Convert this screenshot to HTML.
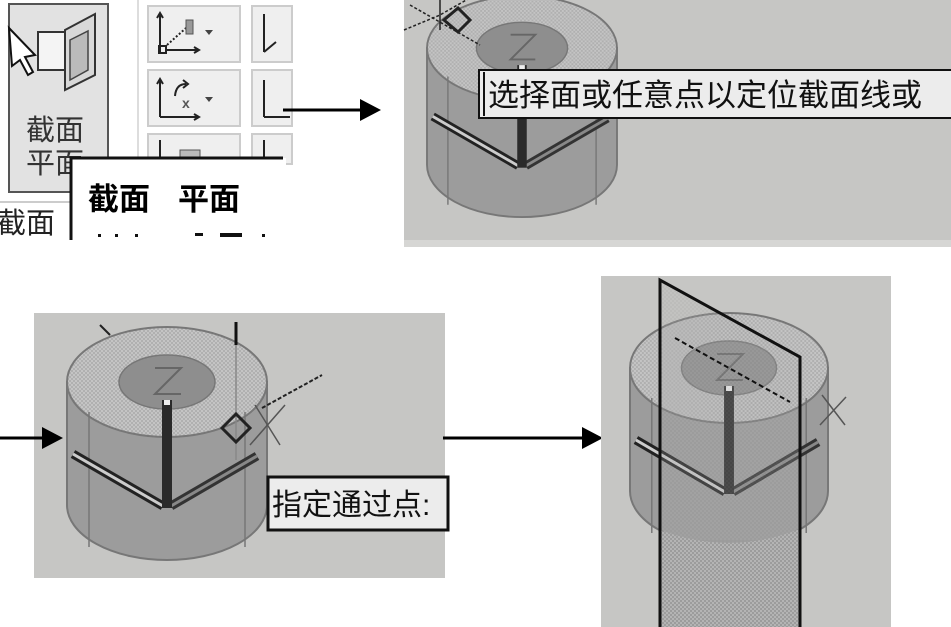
<!DOCTYPE html>
<html><head><meta charset="utf-8"><style>
html,body{margin:0;padding:0;background:#fff;}
svg{display:block}
text{font-family:"Liberation Sans","Noto Sans CJK SC","WenQuanYi Zen Hei",sans-serif;}
</style></head><body>
<svg width="951" height="627" viewBox="0 0 951 627" xmlns="http://www.w3.org/2000/svg">
<defs>
<pattern id="dots" width="4" height="4" patternUnits="userSpaceOnUse"><rect width="4" height="4" fill="#b4b4b4"/><rect width="2" height="2" fill="#9c9c9c"/><rect x="2" y="2" width="2" height="2" fill="#9c9c9c"/></pattern>
<pattern id="dotsL" width="4" height="4" patternUnits="userSpaceOnUse"><rect width="4" height="4" fill="#c4c4c4"/><rect width="2" height="2" fill="#b0b0b0"/><rect x="2" y="2" width="2" height="2" fill="#b0b0b0"/></pattern>
<g id="cyl">
 <path d="M-100,0 L-100,123 A100,55 0 0 0 100,123 L100,0 Z" fill="#9c9c9c" stroke="#777" stroke-width="2"/>
 <ellipse cx="0" cy="0" rx="100" ry="55" fill="url(#dotsL)" stroke="#777" stroke-width="2"/>
 <ellipse cx="0" cy="0" rx="48" ry="27" fill="#8e8e8e" stroke="#777" stroke-width="1.5"/>
 <line x1="-78" y1="30" x2="-78" y2="165" stroke="#777" stroke-width="1.5"/>
 <line x1="78" y1="30" x2="78" y2="165" stroke="#777" stroke-width="1.5"/>
 <path d="M-12,-14 L14,-14 L-12,12 L14,12" fill="none" stroke="#666" stroke-width="2"/>
 <line x1="-94" y1="72" x2="-4" y2="124" stroke="#222" stroke-width="9"/>
 <line x1="-94" y1="72" x2="-4" y2="124" stroke="#ccc" stroke-width="3"/>
 <line x1="4" y1="124" x2="90" y2="74" stroke="#333" stroke-width="9"/>
 <line x1="4" y1="124" x2="90" y2="74" stroke="#888" stroke-width="3"/>
 <rect x="-5" y="18" width="10" height="108" fill="#2a2a2a"/>
 <rect x="-3" y="18" width="6" height="5" fill="#eee"/>
</g>
</defs>

<line x1="138" y1="0" x2="138" y2="160" stroke="#ddd" stroke-width="2"/>
<rect x="9" y="4" width="99" height="188" fill="#e2e2e2" stroke="#555" stroke-width="2"/>
<path d="M38,32 L70,32 L70,70 L38,70 Z" fill="#f4f4f4" stroke="#333" stroke-width="2"/>
<path d="M65,30 L95,14 L95,75 L65,90 Z" fill="#d8d8d8" stroke="#333" stroke-width="2"/>
<path d="M70,40 L88,31 L88,70 L70,80 Z" fill="#bbb" stroke="#444" stroke-width="1.5"/>
<path d="M9,28 L35,55 L25,57 L33,72 L28,75 L20,60 L12,66 Z" fill="#fff" stroke="#111" stroke-width="2"/>
<text x="26" y="140" font-size="29" fill="#333">截面</text>
<text x="26" y="173" font-size="29" fill="#333">平面</text>
<line x1="0" y1="202" x2="70" y2="202" stroke="#ccc" stroke-width="2"/>
<text x="-3" y="233" font-size="29" fill="#222">截面</text>
<g fill="#efefef" stroke="#ccc" stroke-width="2">
<rect x="148" y="6" width="92" height="56"/>
<rect x="148" y="70" width="92" height="56"/>
<rect x="148" y="134" width="92" height="30"/>
<rect x="252" y="6" width="40" height="56"/>
<rect x="252" y="70" width="40" height="56"/>
<rect x="252" y="134" width="40" height="30"/>
</g>
<g stroke="#222" stroke-width="2" fill="none">
<path d="M160,52 L160,14 M157,18 L160,13 L163,18"/><path d="M166,50 L198,50 M194,47 L199,50 L194,53"/>
<rect x="159" y="46" width="7" height="7"/><path d="M167,45 L186,28" stroke-dasharray="2,2"/>
<path d="M160,117 L160,80 M157,84 L160,79 L163,84"/><path d="M160,117 L198,117 M194,114 L199,117 L194,120"/>
<path d="M175,96 Q176,84 186,84 M183,80 L188,84 L183,88"/>
<path d="M264,52 L264,14 M264,52 L276,42"/><path d="M264,117 L264,80 M264,117 L290,117"/>
<path d="M160,160 L160,140 M264,160 L264,140"/>
</g>
<rect x="186" y="20" width="7" height="14" fill="#999" stroke="#555"/>
<text x="182" y="108" font-size="14" font-weight="bold" fill="#555">x</text>
<path d="M205,30 L213,30 L209,35 Z M205,97 L213,97 L209,102 Z" fill="#444"/>
<rect x="180" y="150" width="20" height="14" fill="#bbb" stroke="#555"/>
<rect x="71" y="158" width="215" height="90" fill="#fff"/>
<path d="M71,240 L71,158 L283,158" fill="none" stroke="#111" stroke-width="3"/>
<text x="88" y="210" font-size="31" font-weight="bold" fill="#000">截面</text>
<text x="178" y="210" font-size="31" font-weight="bold" fill="#000">平面</text>
<g fill="#111"><rect x="98" y="234" width="3" height="3"/><rect x="115" y="234" width="3" height="3"/><rect x="135" y="234" width="3" height="3"/><rect x="195" y="233" width="8" height="3"/><rect x="220" y="233" width="22" height="4"/><rect x="262" y="234" width="3" height="3"/></g>

<line x1="283" y1="110" x2="362" y2="110" stroke="#000" stroke-width="3"/>
<path d="M360,99 L381,110 L360,121 Z" fill="#000"/>

<rect x="404" y="0" width="547" height="247" fill="#c6c6c4"/>
<rect x="404" y="240" width="547" height="7" fill="#d6d6d4"/>
<use href="#cyl" transform="translate(522,48) scale(0.95,0.95)"/>
<path d="M404,30 L440,15 L475,-5 M410,5 L480,45" stroke="#222" stroke-width="1.5" stroke-dasharray="3,2" fill="none"/>
<path d="M444,20 L458,8 L470,20 L458,32 Z" fill="none" stroke="#222" stroke-width="3"/>
<line x1="440" y1="0" x2="440" y2="30" stroke="#222" stroke-width="1.5"/>
<rect x="479" y="70" width="475" height="48" fill="#ececec" stroke="#111" stroke-width="2"/>
<line x1="484" y1="72" x2="484" y2="116" stroke="#111" stroke-width="2"/>
<text x="488" y="106" font-size="31" fill="#111">选择面或任意点以定位截面线或</text>

<rect x="34" y="313" width="411" height="265" fill="#c6c6c4"/>
<use href="#cyl" transform="translate(167,382)"/>
<line x1="236" y1="322" x2="236" y2="345" stroke="#111" stroke-width="3"/>
<line x1="236" y1="345" x2="236" y2="460" stroke="#888" stroke-width="1.5"/>
<path d="M262,408 L322,375" stroke="#222" stroke-width="2" stroke-dasharray="4,2"/>
<path d="M255,405 L280,445 M250,445 L285,405" stroke="#555" stroke-width="1.5"/>
<path d="M222,428 L236,414 L250,428 L236,442 Z" fill="none" stroke="#222" stroke-width="3"/>
<path d="M100,325 L110,335" stroke="#222" stroke-width="2"/>
<rect x="268" y="477" width="180" height="53" fill="#ececec" stroke="#111" stroke-width="3"/>
<text x="272" y="515" font-size="30" fill="#111">指定通过点:</text>

<line x1="0" y1="438" x2="45" y2="438" stroke="#000" stroke-width="3"/>
<path d="M42,427 L63,438 L42,449 Z" fill="#000"/>

<line x1="443" y1="438" x2="585" y2="438" stroke="#000" stroke-width="3"/>
<path d="M582,427 L603,438 L582,449 Z" fill="#000"/>

<rect x="601" y="276" width="290" height="351" fill="#c6c6c4"/>
<use href="#cyl" transform="translate(729,368) scale(0.99,1)"/>
<path d="M660,280 L800,357 L800,540 L660,540 Z" fill="url(#dots)" opacity="0.25"/>
<path d="M660,530 Q730,556 800,529 L800,627 L660,627 Z" fill="url(#dots)"/>
<path d="M660,627 L660,280 L800,357 L800,627" fill="none" stroke="#111" stroke-width="3"/>
<path d="M675,338 L790,402" stroke="#111" stroke-width="2" stroke-dasharray="5,3"/>
<path d="M822,395 L845,425 M820,425 L846,397" stroke="#555" stroke-width="1.5"/>
</svg>
</body></html>
